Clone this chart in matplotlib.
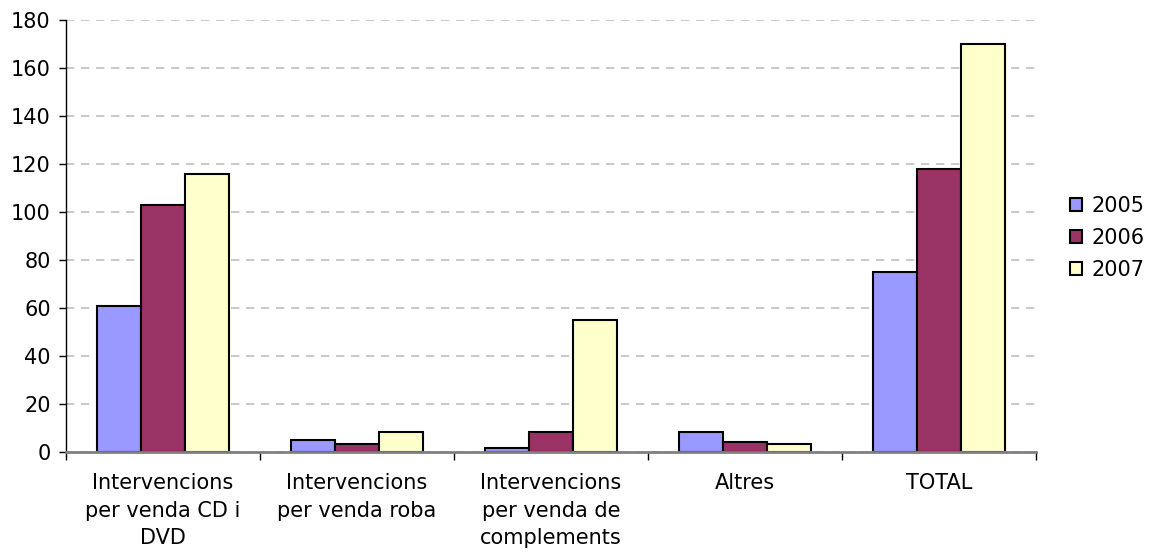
import matplotlib
matplotlib.use("Agg")
import matplotlib.pyplot as plt
import numpy as np

categories = ["Intervencions\nper venda CD i\nDVD", "Intervencions\nper venda roba",
              "Intervencions\nper venda de\ncomplements", "Altres", "TOTAL"]
series_names = ["2005", "2006", "2007"]
v2005 = [61, 5, 1.7, 8.4, 75]
v2006 = [103, 3.4, 8.4, 4.1, 118]
v2007 = [116, 8.4, 55, 3.4, 170]
colors = ["#9999FF", "#993366", "#FFFFCC"]
yticks = [0, 20, 40, 60, 80, 100, 120, 140, 160, 180]

plt.rcParams['font.family'] = ['DejaVu Sans']
fig = plt.figure(figsize=(11.55, 5.52), dpi=100)
ax = fig.add_axes([66/1155, 1-452/552, (1036-66)/1155, (452-20)/552])

x = np.arange(len(categories))
w = 0.227
for i, (vals, name, c) in enumerate(zip([v2005, v2006, v2007], series_names, colors)):
    ax.bar(x + (i-1)*w, vals, width=w, color=c, edgecolor="black", linewidth=1.5,
           label=name, zorder=3)

ax.set_xlim(-0.5, len(categories)-0.5)
ax.set_ylim(0, 180)
ax.set_yticks(yticks)
ax.set_yticklabels([str(t) for t in yticks], fontsize=15)
ax.tick_params(axis='y', length=5, width=1, pad=6, direction='out')
ax.set_xticks(x)
ax.set_xticklabels(categories, fontsize=15, linespacing=1.48)
ax.tick_params(axis='x', which='major', length=0, pad=15)
ax.set_xticks(np.arange(-0.5, len(categories), 1), minor=True)
ax.tick_params(axis='x', which='minor', length=6, width=1, color="black")

ax.yaxis.grid(True, linestyle=(0, (5, 4)), color="#c0c0c0", linewidth=1.2, zorder=0)
ax.set_axisbelow(True)
for s in ["top", "right"]:
    ax.spines[s].set_visible(False)
ax.spines["left"].set_color("black")
ax.spines["left"].set_linewidth(1)
ax.spines["bottom"].set_color("#808080")
ax.spines["bottom"].set_linewidth(2)
ax.spines["bottom"].set_zorder(4)

leg = ax.legend(loc="center left", bbox_to_anchor=(1051/1155, 1-238/552),
                bbox_transform=fig.transFigure, frameon=False, fontsize=15,
                handlelength=0.6, handleheight=0.6, handletextpad=0.45, labelspacing=0.58)

fig.savefig("out.png", dpi=100)
